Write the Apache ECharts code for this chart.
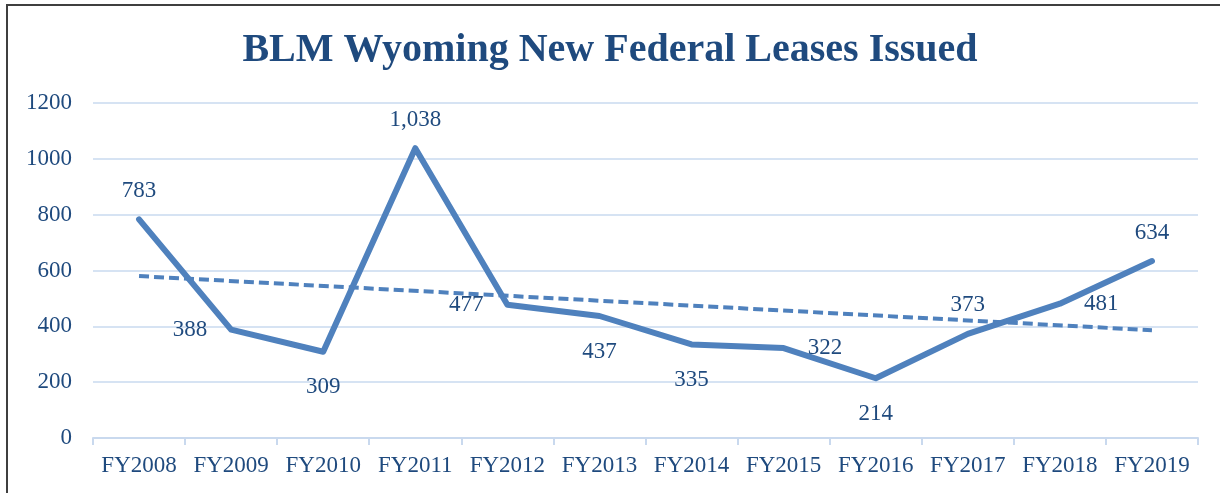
<!DOCTYPE html>
<html style="height: 100%" lang="en">
<head>
    <meta charset="UTF-8">
    <title>BLM Wyoming New Federal Leases Issued</title>
</head>
<body style="height: 100%; margin: 0; background: #fff">
<div style="position: absolute; left: 6px; top: 4px; width: 1300px; height: 600px; border-left: 2px solid #3f3f3f; border-top: 2px solid #3f3f3f"></div>
<div id="main1" style="position: absolute; left: 0; top: 0; width: 1220px; height: 493px"></div>

<script src="https://cdn.jsdelivr.net/npm/echarts@6/dist/echarts.min.js"></script>
<script type="text/javascript">

    // data
    var years = ['FY2008', 'FY2009', 'FY2010', 'FY2011', 'FY2012', 'FY2013',
                 'FY2014', 'FY2015', 'FY2016', 'FY2017', 'FY2018', 'FY2019'];
    var leases = [783, 388, 309, 1038, 477, 437, 335, 322, 214, 373, 481, 634];
    // where each value label sits
    var labelPos = ['top', 'left', 'bottom', 'top', 'left', 'bottom',
                    'bottom', 'right', 'bottom', 'top', 'right', 'top'];
    // linear trend, endpoints only
    var trend = [580, null, null, null, null, null, null, null, null, null, null, 386];

    var textColor = '#1f4a7e';
    var lineColor = '#4f81bd';
    var serif = '"Liberation Serif", "Times New Roman", serif';

    var myChart1 = echarts.init(document.getElementById('main1'));

    var option1 = {
        backgroundColor: 'transparent',
        animation: false,
        title: {
            text: 'BLM Wyoming New Federal Leases Issued',
            left: 'center',
            top: 26,
            textStyle: {
                color: textColor,
                fontFamily: serif,
                fontWeight: 'bold',
                fontSize: 40
            }
        },
        grid: {
            left: 93,
            right: 22,
            top: 103,
            bottom: 55
        },
        xAxis: {
            type: 'category',
            data: years,
            boundaryGap: true,
            axisLine: {lineStyle: {color: '#c9d9ee', width: 2}},
            axisTick: {
                show: true,
                interval: 0,
                alignWithLabel: false,
                length: 7,
                lineStyle: {color: '#c9d9ee', width: 2}
            },
            axisLabel: {
                interval: 0,
                hideOverlap: false,
                color: textColor,
                fontFamily: serif,
                fontSize: 23,
                margin: 16
            }
        },
        yAxis: {
            type: 'value',
            min: 0,
            max: 1200,
            interval: 200,
            axisLine: {show: false},
            axisTick: {show: false},
            splitLine: {lineStyle: {color: '#d6e3f3', width: 2}},
            axisLabel: {
                color: textColor,
                fontFamily: serif,
                fontSize: 23,
                margin: 21,
                formatter: function (v) { return String(v); }
            }
        },
        series: [
            {
                name: 'Leases',
                type: 'line',
                data: leases.map(function (v, i) {
                    var pos = labelPos[i];
                    return {
                        value: v,
                        label: {
                            show: true,
                            position: pos,
                            distance: pos === 'top' ? 16 : 23,
                            offset: pos === 'left' || pos === 'right' ? [0, 2] : [0, 0]
                        }
                    };
                }),
                symbol: 'circle',
                symbolSize: 2,
                showSymbol: true,
                showAllSymbol: true,
                lineStyle: {color: lineColor, width: 6, cap: 'round', join: 'round'},
                itemStyle: {color: lineColor},
                label: {
                    show: true,
                    color: textColor,
                    fontFamily: serif,
                    fontSize: 23,
                    formatter: function (p) {
                        return p.value.toLocaleString('en-US');
                    }
                },
                labelLayout: {hideOverlap: false},
                z: 3
            },
            {
                name: 'Trend',
                type: 'line',
                data: trend,
                connectNulls: true,
                symbol: 'none',
                lineStyle: {color: lineColor, width: 4, type: [10, 5]},
                z: 2
            }
        ]
    };

    myChart1.setOption(option1);

</script>
</body>
</html>
